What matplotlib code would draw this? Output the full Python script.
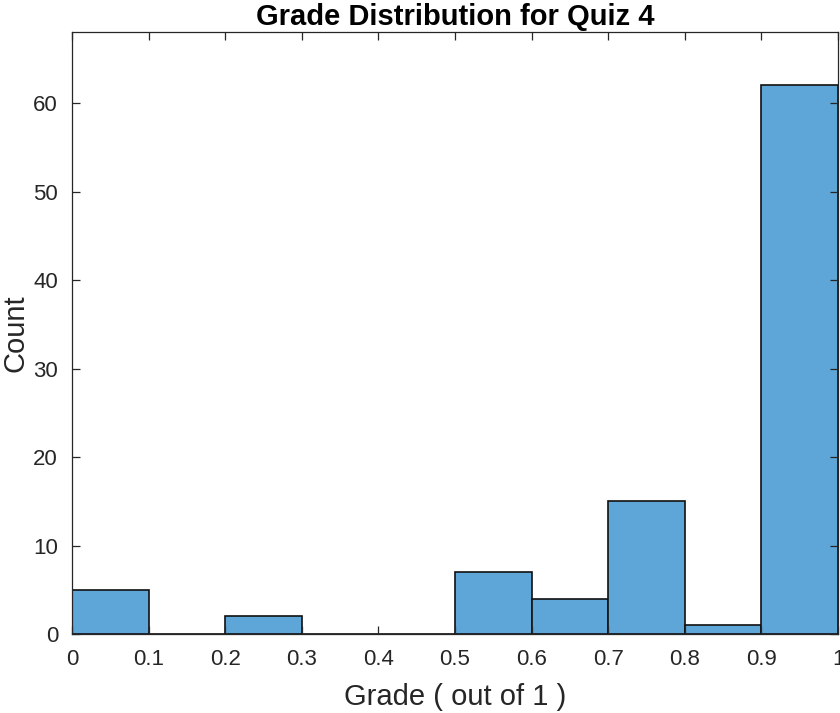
import matplotlib
matplotlib.use("Agg")
import matplotlib.pyplot as plt
import numpy as np

plt.rcParams['font.family'] = ['Liberation Sans', 'DejaVu Sans']

bin_edges = [0.0, 0.1, 0.2, 0.3, 0.4, 0.5, 0.6, 0.7, 0.8, 0.9, 1.0]
counts = [5, 0, 2, 0, 0, 7, 4, 15, 1, 62]
xticks = [0, 0.1, 0.2, 0.3, 0.4, 0.5, 0.6, 0.7, 0.8, 0.9, 1]
xticklabels = ['0', '0.1', '0.2', '0.3', '0.4', '0.5', '0.6', '0.7', '0.8', '0.9', '1']
yticks = [0, 10, 20, 30, 40, 50, 60]

fig = plt.figure(figsize=(8.4, 7.13), dpi=100)
ax = fig.add_axes([0.0857, 0.1108, 0.912, 0.844])

lefts = np.array(bin_edges[:-1])
widths = np.diff(bin_edges)
ax.bar(lefts, counts, width=widths, align='edge', color='#5fa6d8',
       edgecolor='#111111', linewidth=1.2)

ax.set_xlim(0, 1)
ax.set_ylim(0, 68)
ax.set_xticks(xticks)
ax.set_xticklabels(xticklabels)
ax.set_yticks(yticks)

dark = '#262626'
for s in ax.spines.values():
    s.set_color(dark)
    s.set_linewidth(0.9)
ax.tick_params(direction='in', length=6, width=0.9, colors=dark,
               labelsize=16, top=True, right=True)
ax.tick_params(axis='x', pad=11)
ax.tick_params(axis='y', pad=10)

ax.set_title('Grade Distribution for Quiz 4', fontsize=21, fontweight='bold', pad=5)
ax.set_xlabel('Grade ( out of 1 )', fontsize=21, color=dark, labelpad=9)
ax.set_ylabel('Count', fontsize=21, color=dark)
ax.yaxis.set_label_coords(-0.056, 0.5)

fig.savefig('out.png', dpi=100)
